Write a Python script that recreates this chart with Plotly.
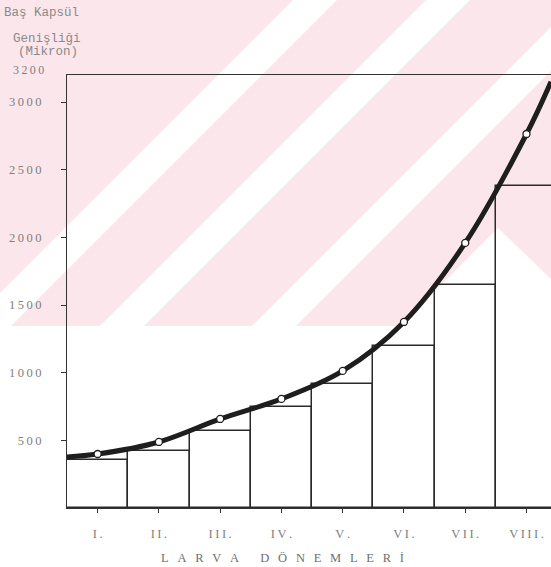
import plotly.graph_objects as go

# ---- data ----
stages = ["I.", "II.", "III.", "IV.", "V.", "VI.", "VII.", "VIII."]
stage_pos = [1, 2, 3, 4, 5, 6, 7, 8]
bar_values = [355, 421, 569, 746, 916, 1197, 1648, 2380]
point_values = [399, 488, 658, 806, 1013, 1375, 1959, 2764]
curve_x = [0.5, 1, 2, 3, 4, 5, 6, 7, 8, 8.4]
curve_y = [377, 399, 488, 658, 806, 1013, 1375, 1959, 2764, 3150]
y_ticks = [500, 1000, 1500, 2000, 2500, 3000]
y_top_label = "3200"
x_title_words = ["LARVA", "DÖNEMLERİ"]

W, H = 551, 567
ML, MR, MT, MB = 67, 0, 75, 59
PW, PH = W - ML - MR, H - MT - MB


def pp(X, Y):
    return (X - ML) / PW, (H - MB - Y) / PH


def path(pts):
    s = ""
    for i, (X, Y) in enumerate(pts):
        x, y = pp(X, Y)
        s += ("M" if i == 0 else "L") + f"{x:.4f},{y:.4f} "
    return s + "Z"


def spaced(s, sep="\u2009"):
    return sep.join(list(s))


PINK = "#fbe6eb"
shapes = []
# watermark: pink field with white diagonal stripes
shapes.append(dict(type="path", path=path([(0, 0), (551, 0), (551, 326), (0, 326)]),
                   fillcolor=PINK, line=dict(width=0), layer="below", xref="paper", yref="paper"))
for c in [315, 448, 600]:
    shapes.append(dict(type="path",
                       path=path([(c - 22, 0), (c + 22, 0), (c + 22 - 326, 326), (c - 22 - 326, 326)]),
                       fillcolor="white", line=dict(width=0), layer="below", xref="paper", yref="paper"))
shapes.append(dict(type="path", path=path([(498, 228), (400, 326), (551, 326), (551, 279)]),
                   fillcolor="white", line=dict(width=0), layer="below", xref="paper", yref="paper"))

fig = go.Figure()
fig.add_trace(go.Bar(
    x=stage_pos, y=bar_values, width=1,
    marker=dict(color="rgba(0,0,0,0)", line=dict(color="#2a2a2a", width=1.5)),
    hoverinfo="skip", showlegend=False))
fig.add_trace(go.Scatter(
    x=curve_x, y=curve_y, mode="lines",
    line=dict(color="#1e1e1e", width=5, shape="spline", smoothing=1.0),
    hoverinfo="skip", showlegend=False))
fig.add_trace(go.Scatter(
    x=stage_pos, y=point_values, mode="markers",
    marker=dict(color="white", size=7, line=dict(color="#1e1e1e", width=1.3)),
    showlegend=False))

tickfont = dict(family="Liberation Serif", size=12.5, color="#808080")
fig.update_layout(
    width=W, height=H,
    margin=dict(l=ML, r=MR, t=MT, b=MB),
    paper_bgcolor="white", plot_bgcolor="rgba(0,0,0,0)",
    bargap=0, shapes=shapes,
    xaxis=dict(range=[0.5, 8.4], tickvals=stage_pos,
               ticktext=[spaced(s, "\u2009") for s in stages],
               showline=True, linecolor="#333", linewidth=1.2, mirror=True,
               ticks="outside", ticklen=4, tickcolor="#333", tickwidth=1.2,
               showgrid=False, zeroline=False, tickfont=tickfont, ticklabelstandoff=10),
    yaxis=dict(range=[0, 3200], tickvals=y_ticks,
               ticktext=[spaced(str(v)) for v in y_ticks],
               showline=True, linecolor="#333", linewidth=1.2, mirror=False,
               ticks="outside", ticklen=5, tickcolor="#333", tickwidth=1.2,
               showgrid=False, zeroline=False, tickfont=tickfont, ticklabelstandoff=17),
)

# 3200 label sits slightly above the frame line
x, y = pp(46, 70)
fig.add_annotation(x=x, y=y, xref="paper", yref="paper", text=spaced(y_top_label),
                   showarrow=False, xanchor="right", yanchor="middle",
                   font=dict(family="Liberation Serif", size=12, color="#808080"))

mono = dict(family="Liberation Mono", size=12.5, color="#8a8a8a")
for txt, X, Y in [("Baş Kapsül", 2, 13), ("Genişliği", 11, 39), ("(Mikron)", 16, 52)]:
    x, y = pp(X, Y)
    fig.add_annotation(x=x, y=y, xref="paper", yref="paper", text=txt, showarrow=False,
                       xanchor="left", yanchor="middle", font=mono)

sep = "\u2002\u2009"
title = (sep + "\u2002\u2002").join(sep.join(list(w)) for w in x_title_words)
x, y = pp(159, 558)
fig.add_annotation(x=x, y=y, xref="paper", yref="paper",
                   text=title, showarrow=False,
                   xanchor="left", yanchor="middle",
                   font=dict(family="Liberation Serif", size=12.5, color="#707070"))

fig.write_html("out.html")
